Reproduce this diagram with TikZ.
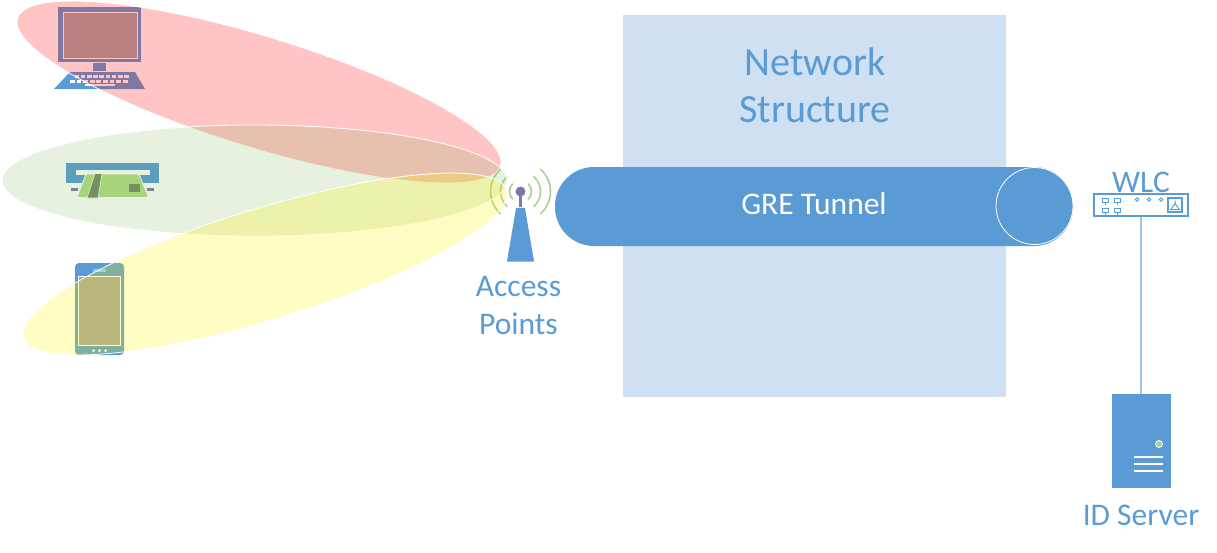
\documentclass[tikz,border=0pt]{standalone}
\usepackage{fontspec}
\setmainfont{Carlito}
\usetikzlibrary{positioning, shapes.geometric}
\definecolor{netblue}{HTML}{5B9BD5}
\definecolor{netpale}{HTML}{CEE0F2}
\definecolor{netline}{HTML}{9DC3E6}
\definecolor{netgreen}{HTML}{A9D18E}
\definecolor{cardgreen}{HTML}{B2DC86}
\definecolor{cardgrey}{HTML}{7C8A66}
\definecolor{netgrey}{HTML}{A5A5A5}
\definecolor{beamgreen}{HTML}{70AD47}
\definecolor{mastcap}{HTML}{7B7BAA}
\begin{document}
\begin{tikzpicture}[
				x=1pt, y=-1pt,
				bigtext/.style = {text=netblue, font=\fontsize{40}{47}\selectfont, align=center},
				labeltext/.style = {text=netblue, font=\fontsize{31.5}{38}\selectfont, align=center},
				beam/.style = {ellipse, draw=white, line width=0.8pt, fill opacity=0.23, inner sep=0pt, minimum width=505pt, minimum height=111pt},
				iconfill/.style = {fill=netblue, draw=none},
				whitefill/.style = {fill=white, draw=none},
				wave/.style = {draw=netgreen, line width=1.6pt, line cap=round},
				smallscreen/.style = {draw=netblue, fill=white, line width=1pt, minimum width=6pt, minimum height=4pt, inner sep=0pt},
				smallled/.style = {circle, draw=netblue, fill=white, line width=0.8pt, minimum size=3.5pt, inner sep=0pt}
				]
				\useasboundingbox (0,0) rectangle (1217,552);

				\node[fill=netpale, minimum width=383pt, minimum height=382pt, inner sep=0pt] (netbox) at (814.5,206) {};
				\node[bigtext] (nettext) at (815,85) {Network\\Structure};

				\node[iconfill, rounded corners=39pt, minimum width=518pt, minimum height=79pt, inner sep=0pt] (tunnel) at (814,206.5) {};
				\node[circle, draw=white, fill=netblue, line width=0.8pt, minimum size=77pt, inner sep=0pt] (tunnelend) at (1034.5,206) {};
				\node[text=white, font=\fontsize{31.5}{34}\selectfont] (tunneltext) at (814,204) {GRE Tunnel};

				% desktop
				\node[iconfill, minimum width=83pt, minimum height=55pt, inner sep=0pt] (monitor) at (99.5,34.5) {};
				\node[fill=netgrey, draw=white, line width=0.6pt, minimum width=74pt, minimum height=46pt, inner sep=0pt] (screen) at (100,35) {};
				\node[iconfill, minimum width=13pt, minimum height=8pt, inner sep=0pt, below=0.5pt of monitor] (neck) {};
				\fill[netblue] (54,89) -- (145,89) -- (135,72) -- (70,72) -- cycle;
				\foreach \i in {0,...,8} {
					\fill[white] (74.5+6.2*\i,74.5) rectangle +(4.6,3);
					\fill[white] (70+6.6*\i,79.5) rectangle +(4.8,3);
				}
				\fill[white] (85,83.5) rectangle (115,86);

				% card reader
				\fill[mastcap] (71,188) rectangle (78,191);
				\fill[mastcap] (147,188) rectangle (154,191);
				\node[iconfill, minimum width=93pt, minimum height=20pt, inner sep=0pt] (reader) at (112.5,173) {};
				\node[whitefill, minimum width=74pt, minimum height=5pt, inner sep=0pt] (slot) at (113,172.5) {};
				\fill[cardgreen, draw=white, line width=0.8pt, rounded corners=1.5pt] (86,174) -- (139,174) -- (148.5,197.5) -- (77,197.5) -- cycle;
				\fill[cardgrey, draw=white, line width=0.6pt] (95,173.5) -- (102,173.5) -- (98,198) -- (87,198) -- cycle;
				\node[fill=cardgrey, minimum width=11pt, minimum height=8pt, inner sep=0pt] (chip) at (134.5,188) {};

				% phone
				\node[iconfill, rounded corners=4pt, minimum width=49pt, minimum height=92pt, inner sep=0pt] (phone) at (99.5,309) {};
				\node[fill=netgrey, draw=white, line width=1pt, minimum width=42.5pt, minimum height=69pt, inner sep=0pt] (phonescreen) at (99.5,310.5) {};
				\fill[netline] (93,269) rectangle (106,271.5);
				\foreach \i in {93.5,99.5,105.5}
					\fill[white] (\i,350.5) circle (1.5);

				% access point
				\fill[netblue] (507,261.5) -- (534,261.5) -- (525,208) -- (516,208) -- cycle;
				\draw[mastcap, line width=3pt] (520.5,194) -- (520.5,207);
				\node[circle, fill=mastcap, minimum size=10pt, inner sep=0pt] (mast) at (520.5,191.5) {};
				\foreach \r/\a in {11/43, 20/48, 30/48} {
					\draw[wave] (520.5,191.5) ++(-\a:\r) arc[start angle=-\a, end angle=\a, radius=\r];
					\draw[wave] (520.5,191.5) ++(180-\a:\r) arc[start angle=180-\a, end angle=180+\a, radius=\r];
				}
				\node[labeltext] (aptext) at (518.5,306) {Access\\Points};

				% beams
				\node[beam, fill=red, rotate=-17] (beamdesk) at (259,92) {};
				\node[beam, fill=beamgreen, fill opacity=0.17] (beamcard) at (254.5,180.5) {};
				\node[beam, fill=yellow, rotate=17] (beamphone) at (265,264) {};

				% controller and server
				\node[draw=netblue, fill=white, line width=2.4pt, minimum width=94pt, minimum height=22pt, inner sep=0pt] (wlc) at (1141,205) {};
				\node[labeltext, above=-3pt of wlc] (wlctext) {WLC};
				\foreach \x in {1105,1117} {
					\node[smallscreen] (scrup\x) at (\x,200) {};
					\node[smallscreen] (scrdn\x) at (\x,210) {};
					\draw[netblue, line width=0.9pt] (scrup\x.south) -- +(0,2.5);
					\draw[netblue, line width=0.9pt] (scrdn\x.south) -- +(0,2.5);
				}
				\foreach \x in {1137,1149,1161}
					\node[smallled] (led\x) at (\x,199.5) {};
				\node[draw=netblue, fill=white, line width=1.6pt, minimum size=14.5pt, inner sep=0pt] (wlcport) at (1175,205) {};
				\draw[netblue, line width=1pt] (wlcport.center) ++(0,-4.5) -- ++(0,3) ++(-5,6) -- ++(10,0) (1175,203.5) -- (1170.5,210) (1175,203.5) -- (1179.5,210);

				\node[iconfill, minimum width=59pt, minimum height=93.5pt, inner sep=0pt] (server) at (1141,441) {};
				\node[circle, fill=netgreen, draw=white, line width=0.8pt, minimum size=7pt, inner sep=0pt] (serverled) at (1159,444) {};
				\foreach \y in {457,464,471}
					\draw[white, line width=1.4pt] (1134,\y) -- (1163,\y);
				\node[labeltext, below=14pt of server] (servertext) {ID Server};
				\draw[netline, line width=1.5pt] (wlc) -- (server);
\end{tikzpicture}
\end{document}
